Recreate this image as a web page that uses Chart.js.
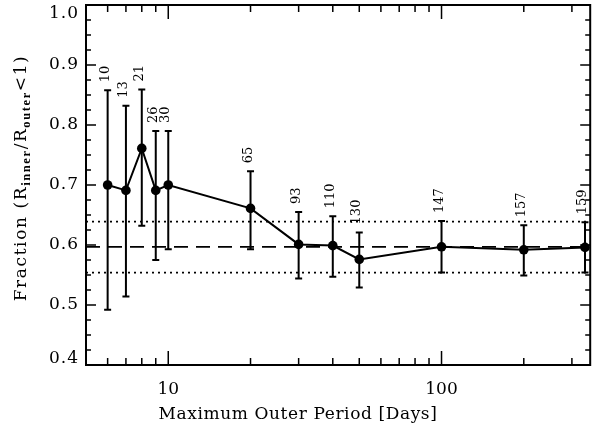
<!DOCTYPE html>
<html>
<head>
<meta charset="utf-8">
<script src="https://cdn.jsdelivr.net/npm/chart.js@4.4.0/dist/chart.umd.min.js"></script>
<style>
  html, body { margin: 0; padding: 0; background: #fff; }
  #wrap { width: 595px; height: 429px; }
</style>
</head>
<body>
<div id="wrap"><canvas id="chart" width="595" height="429"></canvas></div>
<script>
// maximum outer period (days) for each subsample
const periods = [6, 7, 8, 9, 10, 20, 30, 40, 50, 100, 200, 335]
// fraction of systems with R_inner/R_outer < 1
const fractions = [0.700, 0.691, 0.761, 0.691, 0.700, 0.661, 0.601, 0.599, 0.576, 0.597, 0.592, 0.596]
const errUpper = [0.858, 0.832, 0.859, 0.790, 0.790, 0.723, 0.655, 0.648, 0.621, 0.640, 0.633, 0.638]
const errLower = [0.492, 0.514, 0.632, 0.575, 0.593, 0.593, 0.544, 0.547, 0.529, 0.554, 0.549, 0.554]
// number of systems in each subsample
const counts = [10, 13, 21, 26, 30, 65, 93, 110, 130, 147, 157, 159]

// reference level and its band
const meanFraction = 0.597
const bandUpper = 0.639
const bandLower = 0.554

// axes
const xMin = 5
const xMax = 350
const yMin = 0.4
const yMax = 1.0
const xTickLabels = [10, 100]
const xMinorTicks = [5, 6, 7, 8, 9, 20, 30, 40, 50, 60, 70, 80, 90, 200, 300]
const yTickLabels = [0.4, 0.5, 0.6, 0.7, 0.8, 0.9, 1.0]
const yMinorStep = 0.025

const serif = '"DejaVu Serif", serif'

// error bars, count labels, frame, ticks and axis titles
const decorPlugin = {
  id: 'decor',
  afterDatasetsDraw(chart) {
    const ctx = chart.ctx
    const xs = chart.scales.x
    const ys = chart.scales.y
    const area = chart.chartArea

    ctx.save()
    ctx.strokeStyle = '#000'
    ctx.fillStyle = '#000'

    // error bars
    ctx.lineWidth = 2
    periods.forEach((p, i) => {
      const x = xs.getPixelForValue(p)
      const yt = ys.getPixelForValue(errUpper[i])
      const yb = ys.getPixelForValue(errLower[i])
      ctx.beginPath()
      ctx.moveTo(x, yt); ctx.lineTo(x, yb)
      ctx.moveTo(x - 3.5, yt); ctx.lineTo(x + 3.5, yt)
      ctx.moveTo(x - 3.5, yb); ctx.lineTo(x + 3.5, yb)
      ctx.stroke()
    })

    // counts written upward above each bar
    ctx.font = '13px ' + serif
    ctx.textAlign = 'left'
    ctx.textBaseline = 'alphabetic'
    periods.forEach((p, i) => {
      const x = xs.getPixelForValue(p)
      const yt = ys.getPixelForValue(errUpper[i])
      ctx.save()
      ctx.translate(x + 1, yt - 8)
      ctx.rotate(-Math.PI / 2)
      ctx.fillText(String(counts[i]), 0, 0)
      ctx.restore()
    })

    // frame
    ctx.lineWidth = 2
    ctx.strokeRect(area.left, area.top, area.right - area.left, area.bottom - area.top)

    // x ticks, bottom and top, pointing inward
    ctx.lineWidth = 1.5
    const xTick = (v, len) => {
      const x = xs.getPixelForValue(v)
      ctx.beginPath()
      ctx.moveTo(x, area.bottom); ctx.lineTo(x, area.bottom - len)
      ctx.moveTo(x, area.top); ctx.lineTo(x, area.top + len)
      ctx.stroke()
    }
    xTickLabels.forEach(v => xTick(v, 14))
    xMinorTicks.forEach(v => xTick(v, 7))

    // y ticks, left and right
    const yTick = (v, len) => {
      const y = ys.getPixelForValue(v)
      ctx.beginPath()
      ctx.moveTo(area.left, y); ctx.lineTo(area.left + len, y)
      ctx.moveTo(area.right, y); ctx.lineTo(area.right - len, y)
      ctx.stroke()
    }
    for (let v = yMin; v <= yMax + 1e-9; v += yMinorStep) {
      const major = Math.abs(v * 10 - Math.round(v * 10)) < 1e-6
      yTick(v, major ? 10 : 5)
    }

    // y tick labels (end labels kept inside the frame)
    ctx.font = '17px ' + serif
    ctx.letterSpacing = '1px'
    ctx.textAlign = 'right'
    ctx.textBaseline = 'middle'
    yTickLabels.forEach((v, i) => {
      let y = ys.getPixelForValue(v)
      if (i === yTickLabels.length - 1) y += 9
      if (i === 0) y -= 6
      ctx.fillText(v.toFixed(1), area.left - 7, y)
    })

    // x title
    ctx.letterSpacing = '0.6px'
    ctx.textAlign = 'center'
    ctx.textBaseline = 'alphabetic'
    ctx.fillText('Maximum Outer Period [Days]', 298, 419)

    // y title with subscripts
    const parts = [
      ['Fraction (R', '17px ' + serif, 0],
      ['inner', 'bold 12.5px "Liberation Serif", serif', 4],
      ['/R', '17px ' + serif, 0],
      ['outer', 'bold 12.5px "Liberation Serif", serif', 4],
      ['<1)', '17px ' + serif, 0]
    ]
    ctx.letterSpacing = '1.6px'
    let total = 0
    parts.forEach(pt => { ctx.font = pt[1]; total += ctx.measureText(pt[0]).width })
    ctx.save()
    ctx.translate(26, 178)
    ctx.rotate(-Math.PI / 2)
    ctx.textAlign = 'left'
    let cx = -total / 2
    parts.forEach(pt => {
      ctx.font = pt[1]
      ctx.fillText(pt[0], cx, pt[2])
      cx += ctx.measureText(pt[0]).width
    })
    ctx.restore()

    ctx.restore()
  }
}

const points = periods.map((p, i) => ({ x: p, y: fractions[i] }))
const flat = v => [{ x: xMin, y: v }, { x: xMax, y: v }]

new Chart(document.getElementById('chart'), {
  type: 'line',
  data: {
    datasets: [
      {
        data: points,
        borderColor: '#000',
        backgroundColor: '#000',
        borderWidth: 2,
        pointRadius: 4.8,
        pointBackgroundColor: '#000',
        pointBorderWidth: 0,
        tension: 0
      },
      {
        data: flat(meanFraction),
        borderColor: '#000',
        borderWidth: 1.8,
        borderDash: [14, 8],
        pointRadius: 0
      },
      {
        data: flat(bandUpper),
        borderColor: '#000',
        borderWidth: 1.8,
        borderDash: [2, 4],
        pointRadius: 0
      },
      {
        data: flat(bandLower),
        borderColor: '#000',
        borderWidth: 1.8,
        borderDash: [2, 4],
        pointRadius: 0
      }
    ]
  },
  options: {
    responsive: false,
    animation: false,
    layout: {
      padding: { top: 5, right: 4, left: 0, bottom: 0 }
    },
    plugins: {
      legend: { display: false },
      tooltip: { enabled: false }
    },
    scales: {
      x: {
        type: 'logarithmic',
        min: xMin,
        max: xMax,
        grid: { display: false, drawTicks: false },
        border: { display: false },
        afterBuildTicks: scale => {
          scale.ticks = xTickLabels.map(v => ({ value: v }))
        },
        afterFit: scale => { scale.height = 64 },
        ticks: {
          autoSkip: false,
          maxRotation: 0,
          padding: 14,
          color: '#000',
          font: { family: serif, size: 17 },
          callback: v => String(v)
        }
      },
      y: {
        type: 'linear',
        min: yMin,
        max: yMax,
        grid: { display: false, drawTicks: false },
        border: { display: false },
        afterFit: scale => { scale.width = 86 },
        ticks: { display: false }
      }
    }
  },
  plugins: [decorPlugin]
})
</script>
</body>
</html>
